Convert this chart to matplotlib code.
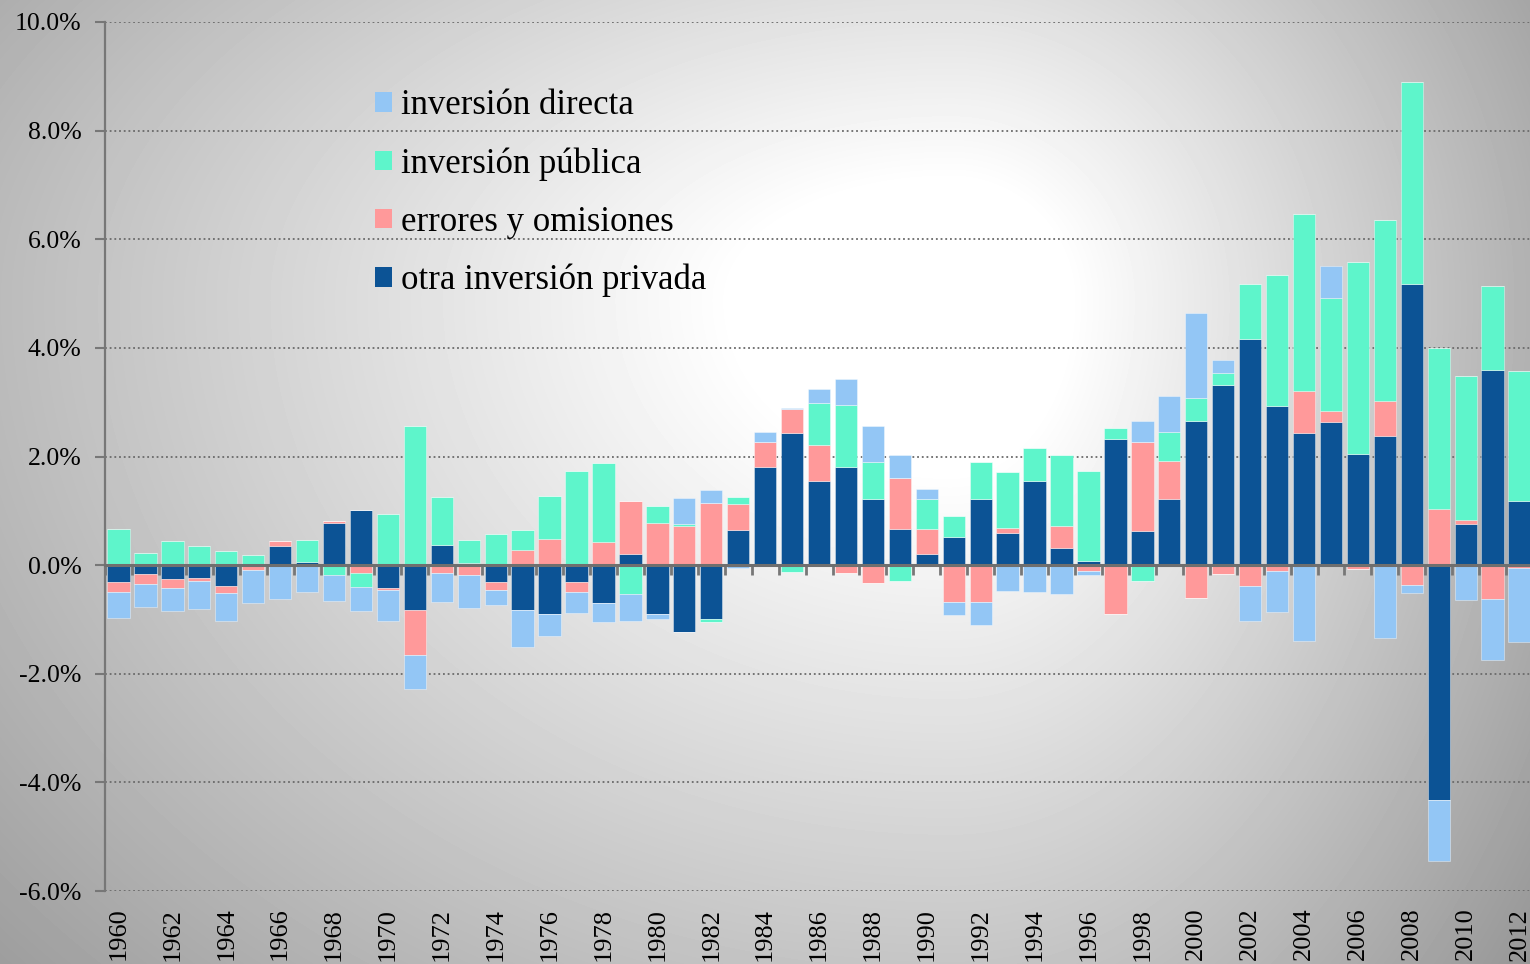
import numpy as np
import matplotlib
matplotlib.use("Agg")
import matplotlib.pyplot as plt
from matplotlib.patches import Patch
from matplotlib.ticker import FuncFormatter

years = list(range(1960, 2013))

# % del PIB
otra_privada = [-0.31, -0.17, -0.25, -0.24, -0.39, 0.00, 0.36, 0.06, 0.78, 1.02,
                -0.43, -0.83, 0.37, 0.03, -0.31, -0.83, -0.90, -0.31, -0.70, 0.20,
                -0.90, -1.24, -0.99, 0.64, 1.81, 2.43, 1.55, 1.81, 1.21, 0.66,
                0.20, 0.52, 1.21, 0.60, 1.55, 0.32, 0.08, 2.32, 0.63, 1.22,
                2.66, 3.31, 4.16, 2.93, 2.43, 2.63, 2.05, 2.38, 5.17, -4.32,
                0.76, 3.60, 1.18]
errores = [-0.19, -0.18, -0.17, -0.05, -0.12, -0.09, 0.08, -0.02, 0.04, -0.15,
           -0.02, -0.83, -0.15, -0.19, -0.15, 0.27, 0.48, -0.19, 0.42, 0.98,
           0.78, 0.72, 1.14, 0.49, 0.45, 0.45, 0.66, -0.15, -0.33, 0.94,
           0.47, -0.68, -0.67, 0.09, 0.00, 0.40, -0.11, -0.90, 1.63, 0.69,
           -0.60, -0.16, -0.39, -0.10, 0.77, 0.20, -0.07, 0.65, -0.37, 1.04,
           0.08, -0.62, -0.05]
publica = [0.66, 0.23, 0.45, 0.36, 0.26, 0.18, 0.00, 0.41, -0.18, -0.25,
           0.94, 2.56, 0.88, 0.43, 0.58, 0.37, 0.80, 1.74, 1.46, -0.53,
           0.31, 0.03, -0.05, 0.12, 0.00, -0.12, 0.78, 1.13, 0.69, -0.30,
           0.54, 0.38, 0.69, 1.03, 0.61, 1.30, 1.65, 0.21, -0.29, 0.54,
           0.41, 0.22, 1.02, 2.42, 3.26, 2.08, 3.54, 3.32, 3.73, 2.95,
           2.64, 1.54, 2.39]
directa = [-0.48, -0.42, -0.43, -0.51, -0.51, -0.61, -0.63, -0.48, -0.48, -0.45,
           -0.57, -0.62, -0.52, -0.60, -0.28, -0.68, -0.40, -0.38, -0.35, -0.50,
           -0.09, 0.48, 0.24, -0.06, 0.20, 0.02, 0.25, 0.48, 0.67, 0.42,
           0.19, -0.23, -0.43, -0.47, -0.49, -0.53, -0.07, 0.00, 0.40, 0.67,
           1.57, 0.24, -0.64, -0.76, -1.39, 0.59, 0.00, -1.34, -0.14, -1.12,
           -0.64, -1.13, -1.36]

series = [
    ("otra inversión privada", otra_privada, "#0c5395"),
    ("errores y omisiones", errores, "#ff999a"),
    ("inversión pública", publica, "#5ef5cb"),
    ("inversión directa", directa, "#93c6f5"),
]

plt.rcParams['font.family'] = ['Liberation Serif', 'DejaVu Serif']

W, H = 1530, 964
fig = plt.figure(figsize=(W / 100, H / 100), dpi=100)

# fondo con degradado radial
bg = fig.add_axes([0, 0, 1, 1], zorder=-10)
yy, xx = np.mgrid[0:H, 0:W]
dx = xx - 950.0
dy = yy - 300.0
dx = np.where(dx < 0, dx * 0.55, dx)
dy = np.where(dy > 0, dy * 0.7, dy)
r = np.sqrt(dx ** 2 + dy ** 2)
g = np.clip(275 - 0.168 * r, 140, 255) / 255.0
bg.imshow(g, cmap="gray", vmin=0, vmax=1, aspect="auto", interpolation="bilinear")
bg.axis("off")

ax = fig.add_axes([105 / W, 1 - 891 / H, 1 - 105 / W + 0.002, (891 - 22) / H])
ax.patch.set_alpha(0)

x = np.arange(len(years))
pos_bottom = np.zeros(len(years))
neg_bottom = np.zeros(len(years))
for name, vals, col in series:
    v = np.array(vals)
    pos = np.where(v > 0, v, 0)
    neg = np.where(v < 0, v, 0)
    ax.bar(x, pos, 0.83, bottom=pos_bottom, color=col, edgecolor=(1, 1, 1, 0.45),
           linewidth=0.6, zorder=3)
    ax.bar(x, neg, 0.83, bottom=neg_bottom, color=col, edgecolor=(1, 1, 1, 0.45),
           linewidth=0.6, zorder=3)
    pos_bottom += pos
    neg_bottom += neg

ax.set_xlim(-0.5, 52.5)
ax.set_ylim(-6, 10)
ax.set_yticks(np.arange(-6, 10.1, 2))
ax.yaxis.set_major_formatter(FuncFormatter(lambda v, p: f"{v:.1f}%"))
ax.tick_params(axis="y", direction="out", length=7, width=1.5, color="#777777",
               labelsize=18.5, pad=10)
ax.grid(axis="y", color="#6a6a6a", linestyle=(0, (1, 1.6)), linewidth=1.3, zorder=1)

for s in ["top", "right"]:
    ax.spines[s].set_visible(False)
ax.spines["left"].set_color("#777777")
ax.spines["left"].set_linewidth(1.6)
ax.spines["bottom"].set_position(("data", 0))
ax.spines["bottom"].set_color("#6f6f6f")
ax.spines["bottom"].set_linewidth(2.2)
ax.spines["bottom"].set_zorder(4)
ax.set_xticks(np.arange(-0.5, 53, 1))
ax.tick_params(axis="x", direction="out", length=7, width=2, color="#777777",
               labelbottom=False)

sec = ax.secondary_xaxis("bottom")
sec.set_xticks(x[::2])
sec.set_xticklabels([str(y) for y in years[::2]], rotation=90, va="top")
sec.tick_params(length=0, labelsize=19, pad=12)
sec.spines["bottom"].set_visible(False)

handles = [Patch(facecolor=col, label=name) for name, _, col in series[::-1]]
leg = ax.legend(handles=handles, loc="upper left", bbox_to_anchor=(0.179, 0.9385),
                frameon=False, fontsize=25, handlelength=0.5, handleheight=0.5,
                handletextpad=0.25, labelspacing=0.72, borderaxespad=0)

fig.savefig("out.png", dpi=100)
